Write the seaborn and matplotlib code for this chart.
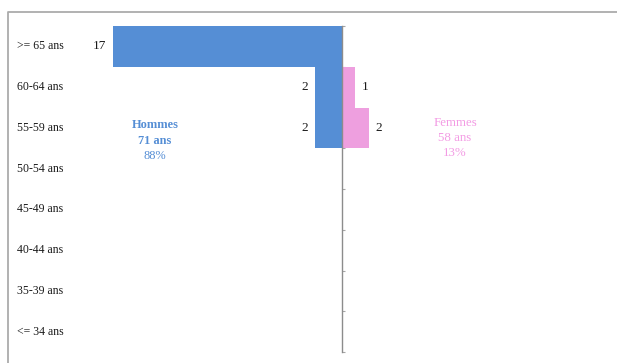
import matplotlib
matplotlib.use("Agg")
import matplotlib.pyplot as plt
from matplotlib.lines import Line2D
from matplotlib.transforms import blended_transform_factory
import numpy as np
import pandas as pd
import seaborn as sns

# Age brackets, top to bottom
tranches = [">= 65 ans", "60-64 ans", "55-59 ans", "50-54 ans",
            "45-49 ans", "40-44 ans", "35-39 ans", "<= 34 ans"]
hommes = [17, 2, 2, 0, 0, 0, 0, 0]
femmes = [0, 1, 2, 0, 0, 0, 0, 0]

resume_hommes = ["Hommes", "71 ans", "88%"]
resume_femmes = ["Femmes", "58 ans", "13%"]

BLEU = "#558ED5"
ROSE = "#EE9FDF"
ROSE_TXT = "#F39BE4"
GRIS = "#8C8C8C"

sns.set_theme(style="white")
plt.rcParams["font.family"] = ["Liberation Serif", "DejaVu Serif"]

df = pd.DataFrame({
    "tranche": tranches * 2,
    "effectif": [-v for v in hommes] + femmes,
    "sexe": ["Hommes"] * len(tranches) + ["Femmes"] * len(tranches),
})

W, H = 617, 363
fig = plt.figure(figsize=(W / 100, H / 100), dpi=100)
ax = fig.add_axes([8 / W, (H - 352) / H, 609 / W, 326 / H])

sns.barplot(data=df, x="effectif", y="tranche", hue="sexe", order=tranches,
            palette={"Hommes": BLEU, "Femmes": ROSE}, dodge=False, width=1.0,
            saturation=1, orient="h", linewidth=0, legend=False, ax=ax)

px_per_unit = 13.47
ax.set_xlim(-334 / px_per_unit, 275 / px_per_unit)
ax.set_ylim(len(tranches) - 0.5, -0.5)

# Central axis with inward ticks at bracket boundaries
for s in ["top", "right", "bottom"]:
    ax.spines[s].set_visible(False)
ax.spines["left"].set_position(("data", 0))
ax.spines["left"].set_color(GRIS)
ax.spines["left"].set_linewidth(1.0)
ax.set_yticks(np.arange(len(tranches) + 1) - 0.5)
ax.set_yticklabels([])
ax.tick_params(axis="y", direction="in", length=2.5, width=0.8, color="#A6A6A6", left=True)
ax.set_xticks([])
ax.set_xlabel("")
ax.set_ylabel("")

# Bracket names on the left
tr = blended_transform_factory(ax.transAxes, ax.transData)
for i, t in enumerate(tranches):
    ax.text(9 / 609, i, t, transform=tr, ha="left", va="center",
            fontsize=8.5, color="#1a1a1a")

# Value labels next to each bar
for i, v in enumerate(hommes):
    if v:
        ax.annotate(str(v), xy=(-v, i), xytext=(-5, 0), textcoords="offset points",
                    ha="right", va="center", fontsize=9.5, color="#1a1a1a")
for i, v in enumerate(femmes):
    if v:
        ax.annotate(str(v), xy=(v, i), xytext=(4.5, 0), textcoords="offset points",
                    ha="left", va="center", fontsize=9.5, color="#1a1a1a")

# Group summaries
fig.text(155 / W, 1 - 125 / H, resume_hommes[0], ha="center", va="center",
         fontsize=8.9, color=BLEU, fontweight="bold")
fig.text(155 / W, 1 - 141 / H, resume_hommes[1], ha="center", va="center",
         fontsize=8.9, color=BLEU, fontweight="bold")
fig.text(155 / W, 1 - 156 / H, resume_hommes[2], ha="center", va="center",
         fontsize=8.9, color=BLEU)
for k, y in enumerate([123, 138, 153]):
    fig.text(455 / W, 1 - y / H, resume_femmes[k], ha="center", va="center",
             fontsize=9.3, color=ROSE_TXT)

# Outer frame (top and left edges)
fig.add_artist(Line2D([8 / W, 8 / W, 1.01], [-0.01, 1 - 12 / H, 1 - 12 / H],
                      transform=fig.transFigure, color="#ABABAB", linewidth=1.3))

fig.savefig("out.png", dpi=100)
